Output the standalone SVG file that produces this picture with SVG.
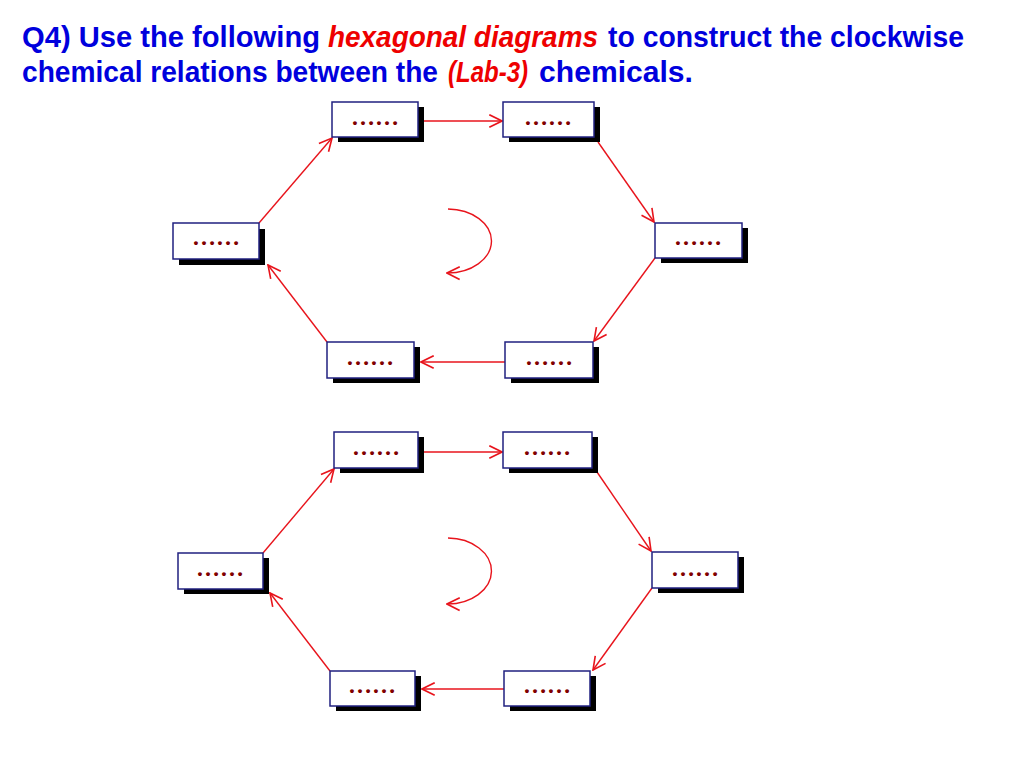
<svg xmlns="http://www.w3.org/2000/svg" width="1024" height="768" viewBox="0 0 1024 768">
<style>
.t{font-family:"Liberation Sans",Arial,sans-serif;font-weight:bold;font-size:29px;fill:#0000dd}
.r{fill:#ee0000;font-style:italic}
.sh{fill:#000}
.bx{fill:#fff;stroke:#202080;stroke-width:1.5}
.d{font-family:"Liberation Serif","Times New Roman",serif;font-weight:bold;font-size:24px;fill:#800000;text-anchor:middle}
.c{stroke:#e8141c;stroke-width:1.4;fill:none;marker-end:url(#ah)}
</style>
<defs>
<marker id="ah" markerUnits="userSpaceOnUse" markerWidth="15" markerHeight="15" refX="12" refY="6.5" orient="auto" viewBox="0 0 13 13">
<path d="M1,1 L12,6.5 L1,12" fill="none" stroke="#e8141c" stroke-width="1.4"/>
</marker>
</defs>
<rect width="1024" height="768" fill="#fff"/>
<g id="title" xml:space="preserve">
<text class="t" x="22" y="47" textLength="298" lengthAdjust="spacingAndGlyphs">Q4)  Use the following</text>
<text class="t r" x="328" y="47" textLength="270" lengthAdjust="spacingAndGlyphs">hexagonal diagrams</text>
<text class="t" x="608" y="47" textLength="356" lengthAdjust="spacingAndGlyphs">to construct the clockwise</text>
<text class="t" x="22" y="82" textLength="416" lengthAdjust="spacingAndGlyphs">chemical relations between the</text>
<text class="t r" x="448" y="82" textLength="80" lengthAdjust="spacingAndGlyphs">(Lab-3)</text>
<text class="t" x="539" y="82" textLength="154" lengthAdjust="spacingAndGlyphs">chemicals.</text>
</g>
<g id="connectors">
<line class="c" x1="259" y1="223" x2="332" y2="138"/>
<line class="c" x1="424" y1="121" x2="502" y2="121"/>
<line class="c" x1="598" y1="142" x2="654" y2="222"/>
<line class="c" x1="655" y1="258" x2="594" y2="341"/>
<line class="c" x1="505" y1="362" x2="421" y2="362"/>
<line class="c" x1="327" y1="342" x2="268" y2="265"/>
<path class="c" d="M448,209 A44,32 0 0 1 447,273"/>
<line class="c" x1="263" y1="553" x2="334" y2="469"/>
<line class="c" x1="424" y1="452" x2="502" y2="452"/>
<line class="c" x1="597" y1="472" x2="651" y2="551"/>
<line class="c" x1="652" y1="588" x2="593" y2="670"/>
<line class="c" x1="504" y1="689" x2="422" y2="689"/>
<line class="c" x1="330" y1="671" x2="270" y2="593"/>
<path class="c" d="M448,538 A44,33 0 0 1 447,604"/>
</g>
<g id="h1-left"><rect class="sh" x="179" y="229" width="86" height="36"/><rect class="bx" x="173" y="223" width="86" height="36"/><text class="d" x="216" y="245">……</text></g>
<g id="h1-topleft"><rect class="sh" x="338" y="107" width="86" height="35"/><rect class="bx" x="332" y="102" width="86" height="35"/><text class="d" x="375" y="125">……</text></g>
<g id="h1-topright"><rect class="sh" x="509" y="107" width="91" height="35"/><rect class="bx" x="503" y="102" width="91" height="35"/><text class="d" x="548" y="125">……</text></g>
<g id="h1-right"><rect class="sh" x="661" y="228" width="87" height="35"/><rect class="bx" x="655" y="223" width="87" height="35"/><text class="d" x="698" y="245">……</text></g>
<g id="h1-bottomright"><rect class="sh" x="511" y="347" width="88" height="36"/><rect class="bx" x="505" y="342" width="88" height="36"/><text class="d" x="549" y="365">……</text></g>
<g id="h1-bottomleft"><rect class="sh" x="333" y="347" width="87" height="36"/><rect class="bx" x="327" y="342" width="87" height="36"/><text class="d" x="370" y="365">……</text></g>
<g id="h2-left"><rect class="sh" x="184" y="558" width="85" height="36"/><rect class="bx" x="178" y="553" width="85" height="36"/><text class="d" x="220" y="576">……</text></g>
<g id="h2-topleft"><rect class="sh" x="340" y="437" width="84" height="36"/><rect class="bx" x="334" y="432" width="84" height="36"/><text class="d" x="376" y="455">……</text></g>
<g id="h2-topright"><rect class="sh" x="509" y="437" width="89" height="36"/><rect class="bx" x="503" y="432" width="89" height="36"/><text class="d" x="547" y="455">……</text></g>
<g id="h2-right"><rect class="sh" x="658" y="557" width="86" height="36"/><rect class="bx" x="652" y="552" width="86" height="36"/><text class="d" x="695" y="576">……</text></g>
<g id="h2-bottomright"><rect class="sh" x="510" y="676" width="86" height="35"/><rect class="bx" x="504" y="671" width="86" height="35"/><text class="d" x="547" y="693">……</text></g>
<g id="h2-bottomleft"><rect class="sh" x="336" y="676" width="85" height="35"/><rect class="bx" x="330" y="671" width="85" height="35"/><text class="d" x="372" y="693">……</text></g>
</svg>
